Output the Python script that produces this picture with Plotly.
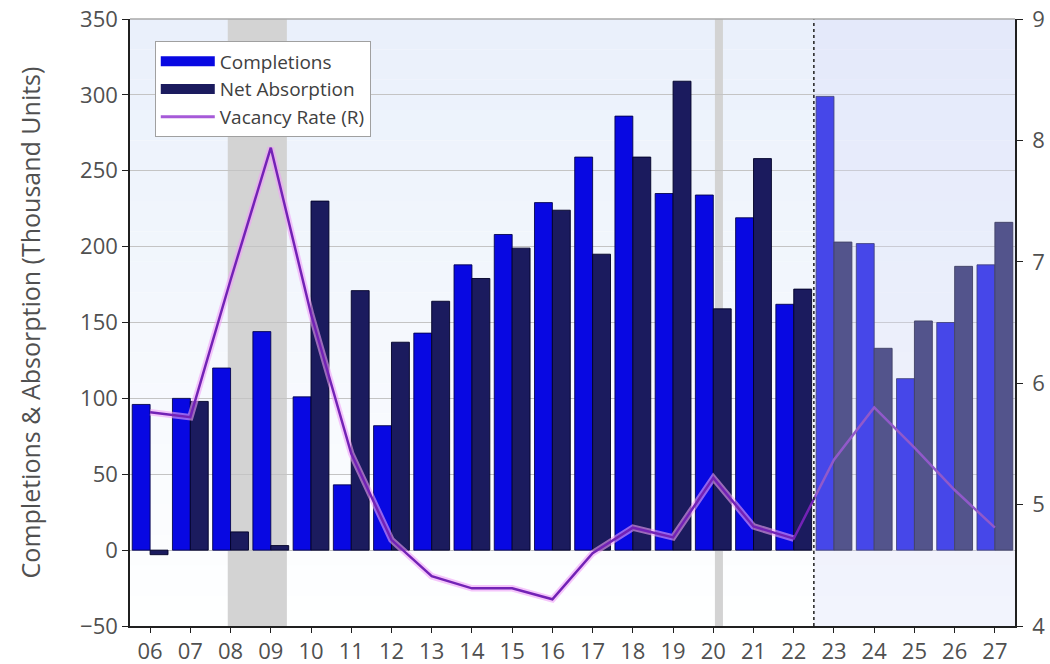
import plotly.graph_objects as go

# Annual apartment market figures, 2006-2027 (2023 onward are forecasts)
years = ["06", "07", "08", "09", "10", "11", "12", "13", "14", "15", "16",
         "17", "18", "19", "20", "21", "22", "23", "24", "25", "26", "27"]

completions = [96, 100, 120, 144, 101, 43, 82, 143, 188, 208, 229,
               259, 286, 235, 234, 219, 162, 299, 202, 113, 150, 188]

net_absorption = [-3, 98, 12, 3, 230, 171, 137, 164, 179, 199, 224,
                  195, 259, 309, 159, 258, 172, 203, 133, 151, 187, 216]

vacancy_rate = [5.76, 5.72, 6.85, 7.94, 6.57, 5.42, 4.71, 4.41, 4.31, 4.31, 4.22,
                4.60, 4.81, 4.73, 5.22, 4.82, 4.72, 5.37, 5.80, 5.47, 5.12, 4.81]

left_ticks = [-50, 0, 50, 100, 150, 200, 250, 300, 350]
right_ticks = [4, 5, 6, 7, 8, 9]

n_hist = years.index("22") + 1  # last actual year

FONT = "Open Sans"
TXT = "#505050"
C_COMP = "#0808E2"
C_ABS = "#1B1B5E"
C_VAC = "#7322B6"

fig = go.Figure()

fig.add_trace(go.Bar(
    x=years, y=completions, name="Completions", showlegend=False,
    marker=dict(color=C_COMP, line=dict(color="rgba(0,0,70,0.85)", width=1)),
))
fig.add_trace(go.Bar(
    x=years, y=net_absorption, name="Net Absorption", showlegend=False,
    marker=dict(color=C_ABS, line=dict(color="rgba(0,0,40,0.9)", width=1)),
))

# soft glow under the actual-years part of the vacancy line
fig.add_trace(go.Scatter(
    x=years[:n_hist], y=vacancy_rate[:n_hist], yaxis="y2", mode="lines",
    line=dict(color="rgba(240,160,248,0.6)", width=6.5),
    showlegend=False, hoverinfo="skip",
))
fig.add_trace(go.Scatter(
    x=years, y=vacancy_rate, yaxis="y2", mode="lines", name="Vacancy Rate (R)",
    line=dict(color=C_VAC, width=2.5), showlegend=False,
))

# legend keys: wide colour blocks for the bars, a line for the rate
for name, color, width in [("Completions", C_COMP, 20),
                           ("Net Absorption", C_ABS, 20),
                           ("Vacancy Rate (R)", "#A65AD8", 3)]:
    fig.add_trace(go.Scatter(
        x=[None], y=[None], mode="lines", name=name,
        line=dict(color=color, width=width), hoverinfo="skip",
    ))

shapes = []

# plot background: light blue fading to white toward the bottom
n_bands = 20
lo, hi = -50, 350
top_rgb = (233, 240, 251)
for k in range(n_bands):
    f = (k + 0.5) / n_bands
    c = tuple(round(255 + (t - 255) * f) for t in top_rgb)
    shapes.append(dict(
        type="rect", layer="below", xref="paper", yref="y",
        x0=0, x1=1,
        y0=lo + (hi - lo) * k / n_bands, y1=lo + (hi - lo) * (k + 1) / n_bands,
        fillcolor="rgb(%d,%d,%d)" % c, line=dict(width=0),
    ))

# recessions
shapes.append(dict(type="rect", layer="below", xref="x", yref="paper",
                   x0=1.93, x1=3.40, y0=0, y1=1,
                   fillcolor="#D3D3D3", line=dict(width=0)))
shapes.append(dict(type="rect", layer="below", xref="x", yref="paper",
                   x0=14.04, x1=14.24, y0=0, y1=1,
                   fillcolor="#D3D3D3", line=dict(width=0)))

# forecast period: translucent wash over everything from 2023 on
shapes.append(dict(type="rect", layer="above", xref="x", yref="paper",
                   x0=n_hist - 0.5, x1=len(years) - 0.5, y0=0, y1=1,
                   fillcolor="rgba(214,218,250,0.30)", line=dict(width=0)))
shapes.append(dict(type="line", layer="above", xref="x", yref="paper",
                   x0=n_hist - 0.5, x1=n_hist - 0.5, y0=0, y1=1,
                   line=dict(color="#202020", width=1.5, dash="dot")))

# top border
shapes.append(dict(type="line", layer="above", xref="paper", yref="paper",
                   x0=0, x1=1, y0=1, y1=1,
                   line=dict(color="#A8A8A8", width=1.5)))

fig.update_layout(
    width=1050, height=664,
    margin=dict(l=130, r=35, t=19, b=38),
    paper_bgcolor="white",
    plot_bgcolor="white",
    barmode="group",
    bargap=0.11,
    bargroupgap=0,
    font=dict(family=FONT, color=TXT),
    shapes=shapes,
    showlegend=True,
    legend=dict(
        x=0.028, y=0.963, xanchor="left", yanchor="top",
        bgcolor="white", bordercolor="#A0A0A0", borderwidth=1,
        font=dict(family=FONT, size=19, color="#404040"),
        itemwidth=54, tracegroupgap=4,
    ),
    xaxis=dict(
        type="category", range=[-0.5, len(years) - 0.5], automargin=False,
        showline=True, linecolor="#202020", linewidth=1.5,
        ticks="outside", ticklen=5, tickcolor="#202020",
        tickfont=dict(size=22, color=TXT),
        showgrid=False,
    ),
    yaxis=dict(
        range=[-50, 350], tickvals=left_ticks, automargin=False,
        showline=True, linecolor="#202020", linewidth=1.5,
        ticks="outside", ticklen=6, tickcolor="#202020",
        tickfont=dict(size=22, color=TXT),
        showgrid=True, gridcolor="#C4C4C4", gridwidth=1,
        zeroline=False,
        title=dict(text="Completions & Absorption (Thousand Units)",
                   font=dict(size=25, color=TXT), standoff=32),
    ),
    yaxis2=dict(
        overlaying="y", side="right", range=[4, 9], tickvals=right_ticks,
        automargin=False, ticklabelstandoff=5,
        showline=True, linecolor="#202020", linewidth=1.5,
        ticks="outside", ticklen=6, tickcolor="#202020",
        tickfont=dict(size=22, color=TXT),
        showgrid=False, zeroline=False,
    ),
)

fig.write_html("out.html")
